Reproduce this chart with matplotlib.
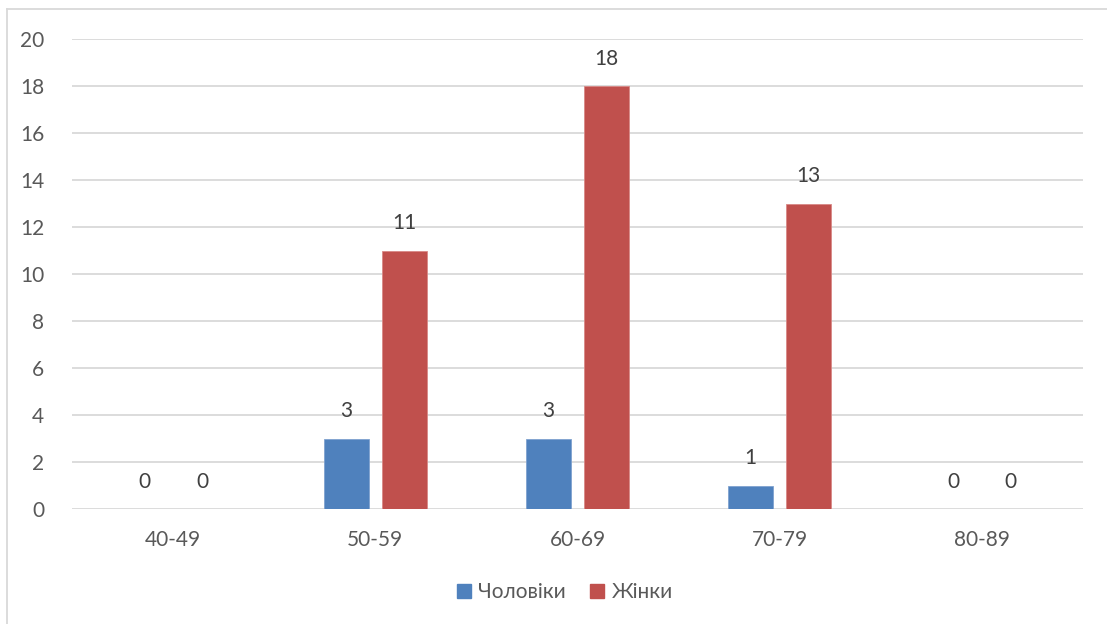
import numpy as np
import matplotlib.pyplot as plt
from matplotlib.lines import Line2D

plt.rcParams['font.family'] = ['Lato', 'DejaVu Sans']

categories = ['40-49', '50-59', '60-69', '70-79', '80-89']
men = [0, 3, 3, 1, 0]
women = [0, 11, 18, 13, 0]
series_names = ['Чоловіки', 'Жінки']

blue = '#4F81BD'
red = '#C0504D'
text_col = '#595959'

fig = plt.figure(figsize=(11.07, 6.24), dpi=100)
ax = fig.add_axes([72 / 1107, 1 - 509 / 624, (1083 - 72) / 1107, (509 - 39) / 624])

x = np.arange(len(categories))
w = 0.223
off = 0.143
ax.bar(x - off, men, w, color=blue, edgecolor='#7FA2CF', linewidth=0.6, zorder=3)
ax.bar(x + off, women, w, color=red, edgecolor='#D88986', linewidth=0.6, zorder=3)

# value labels above each bar
for xi, v in zip(x - off, men):
    ax.annotate(str(v), (xi, v), xytext=(0, 19.5), textcoords='offset points',
                ha='center', va='center', fontsize=15, color='#404040')
for xi, v in zip(x + off, women):
    ax.annotate(str(v), (xi, v), xytext=(0, 19.5), textcoords='offset points',
                ha='center', va='center', fontsize=15, color='#404040')

ax.set_xlim(-0.5, len(categories) - 0.5)
ax.set_ylim(0, 20)
ax.set_yticks(range(0, 21, 2))
ax.set_xticks(x)
ax.set_xticklabels(categories)
ax.yaxis.grid(True, color='#D9D9D9', linewidth=1.3, zorder=0)
ax.tick_params(axis='both', length=0, labelsize=15, labelcolor=text_col)
ax.tick_params(axis='y', pad=20)
ax.tick_params(axis='x', pad=15)
for s in ax.spines.values():
    s.set_visible(False)

handles = [Line2D([], [], marker='s', linestyle='', markersize=10, color=c)
           for c in (blue, red)]
leg = fig.legend(handles, series_names, loc='center', bbox_to_anchor=(563 / 1107, 1 - 592 / 624),
                 ncol=2, frameon=False, fontsize=15, handletextpad=0.2, columnspacing=1.0,
                 handlelength=1.0)
for t in leg.get_texts():
    t.set_color(text_col)

# chart frame (left and top edges)
fig.add_artist(Line2D([7 / 1107, 7 / 1107], [0, 1 - 9 / 624], color='#D9D9D9', linewidth=1.3))
fig.add_artist(Line2D([7 / 1107, 1], [1 - 9 / 624, 1 - 9 / 624], color='#D9D9D9', linewidth=1.3))

fig.savefig('out.png', dpi=100)
